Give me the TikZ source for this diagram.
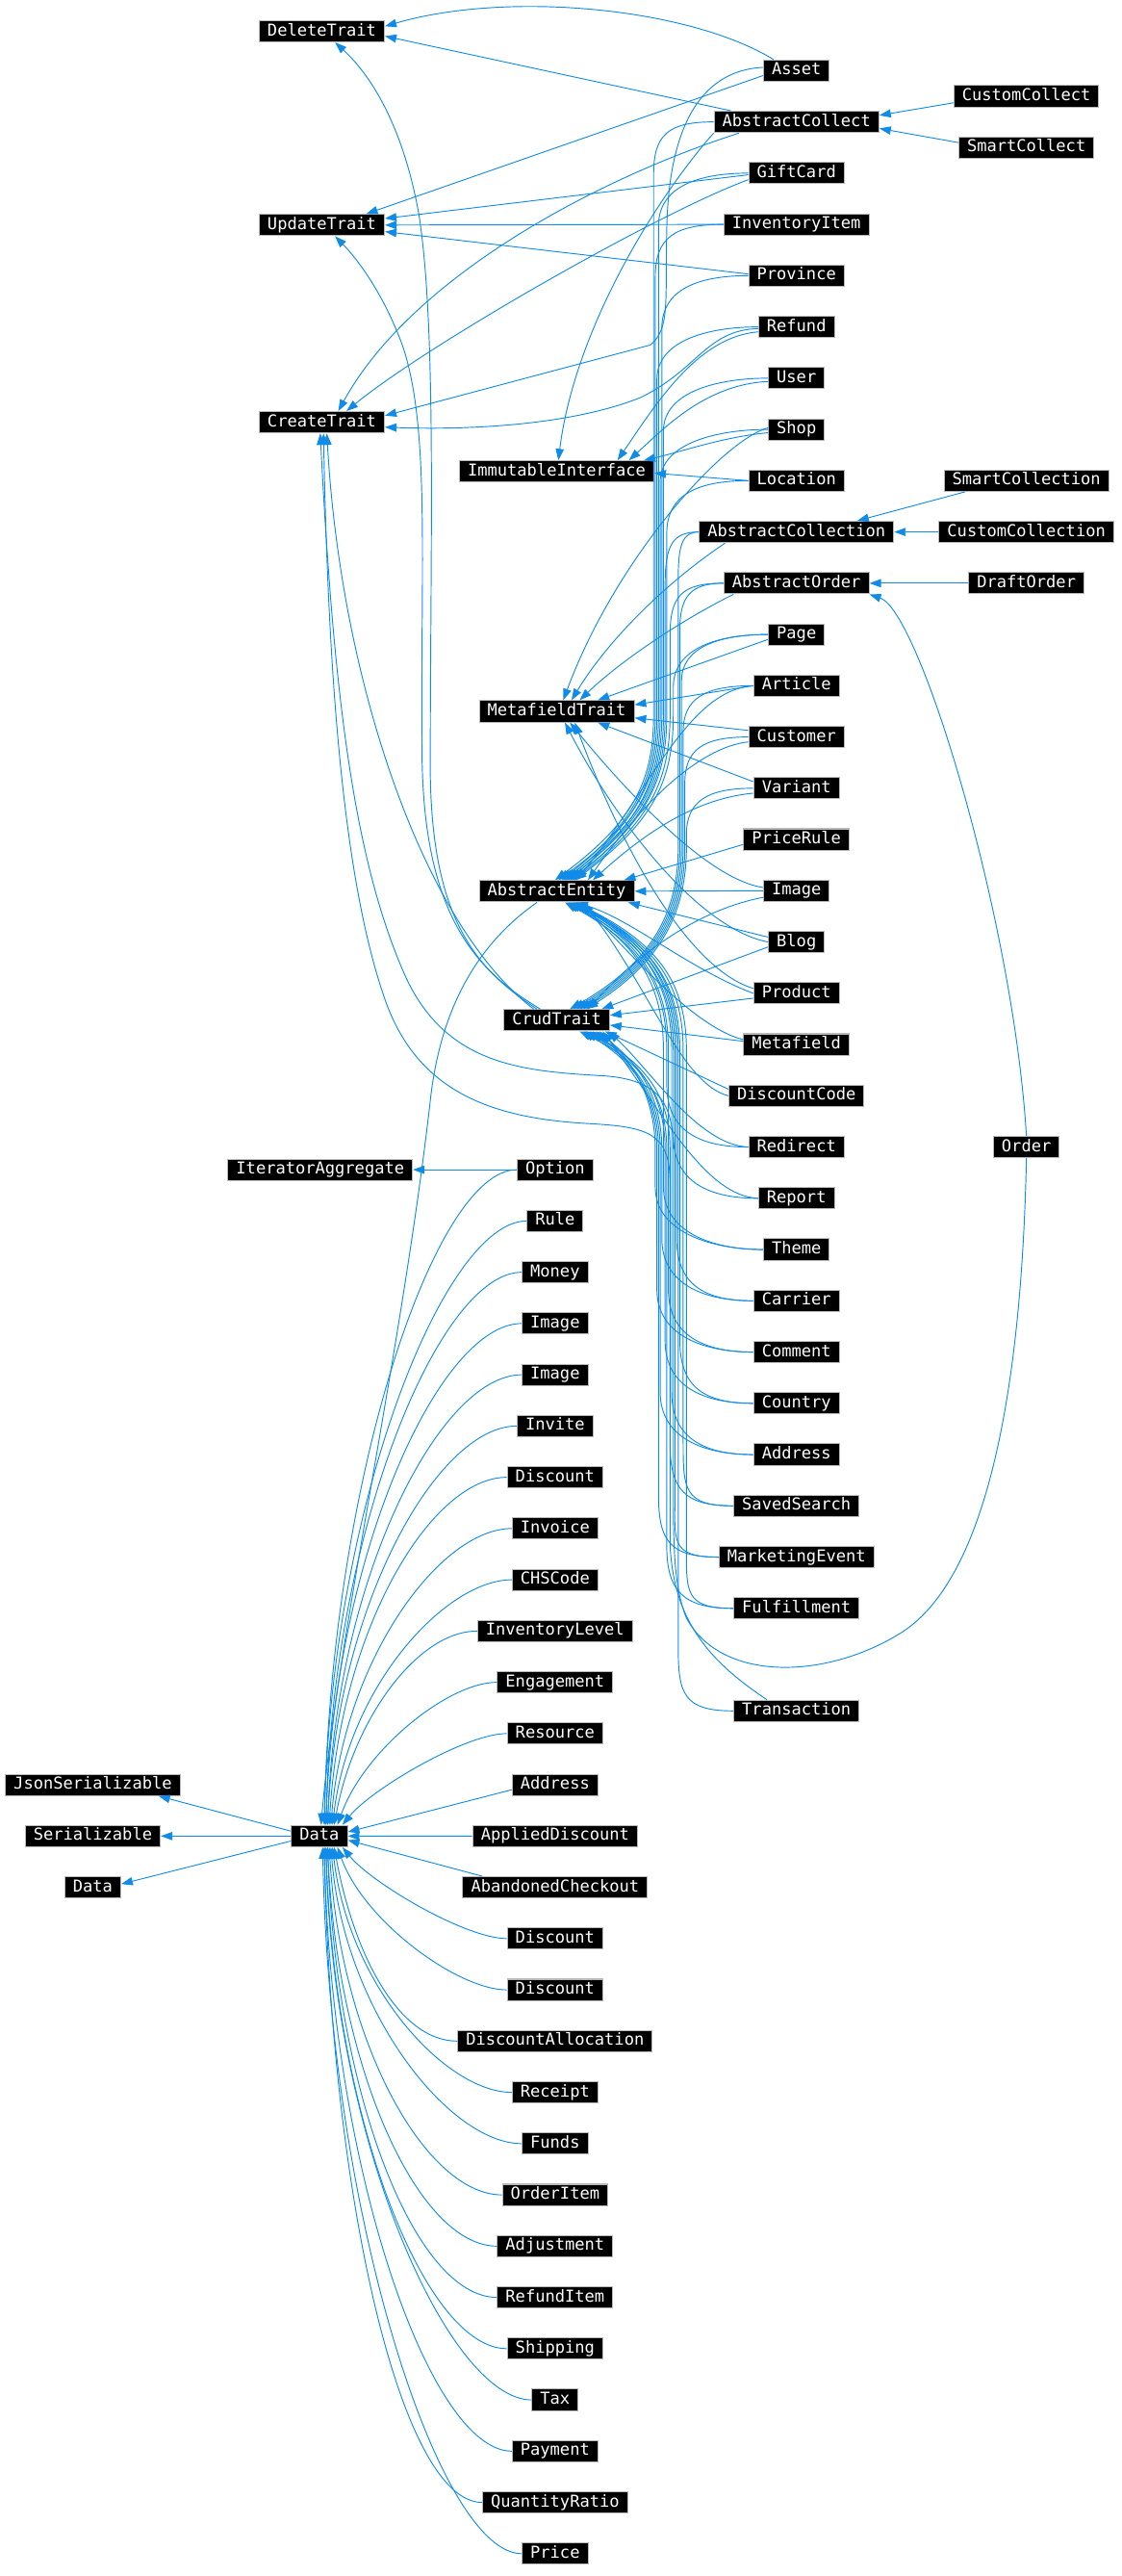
\documentclass[tikz,border=0pt]{standalone}
\usepackage{fontspec}
\newfontfamily\dvm{DejaVu Sans Mono}
\usetikzlibrary{arrows.meta,calc}
\definecolor{eblue}{RGB}{16,140,232}
\begin{document}
\begin{tikzpicture}[x=1pt,y=-1pt,
  cls/.style={draw=gray!55, fill=black, text=white, font=\dvm\fontsize{10}{12}\selectfont,
    inner xsep=5pt, inner ysep=0pt, minimum height=13pt, text height=7.6pt, text depth=2.2pt, line width=0.6pt},
  e/.style={draw=eblue, line width=0.55pt, -{Triangle[length=7pt,width=5pt]}}]
\useasboundingbox (0,0) rectangle (683,1568);
% ---------- nodes ----------
\node[cls] (DeleteTrait) at (196,19) {DeleteTrait};
\node[cls] (UpdateTrait) at (196,137) {UpdateTrait};
\node[cls] (CreateTrait) at (196,257) {CreateTrait};
\node[cls] (IteratorAggregate) at (195,712) {IteratorAggregate};
\node[cls] (Data) at (194.5,1117.6) {Data};
\node[cls] (JsonSerializable) at (56.5,1086.4) {JsonSerializable};
\node[cls] (Serializable) at (56.5,1117.6) {Serializable};
\node[cls] (DataL) at (56.5,1148.8) {Data};
\node[cls] (ImmutableInterface) at (339,287) {ImmutableInterface};
\node[cls] (MetafieldTrait) at (339,433) {MetafieldTrait};
\node[cls] (AbstractEntity) at (339,542.5) {AbstractEntity};
\node[cls] (CrudTrait) at (339,621) {CrudTrait};
% right column
\node[cls] (Asset) at (485,43) {Asset};
\node[cls] (AbstractCollect) at (485,74.2) {AbstractCollect};
\node[cls] (GiftCard) at (485,105.4) {GiftCard};
\node[cls] (InventoryItem) at (485,136.6) {InventoryItem};
\node[cls] (Province) at (485,167.8) {Province};
\node[cls] (Refund) at (485,199) {Refund};
\node[cls] (User) at (485,230.2) {User};
\node[cls] (Shop) at (485,261.4) {Shop};
\node[cls] (Location) at (485,292.6) {Location};
\node[cls] (AbstractCollection) at (485,323.8) {AbstractCollection};
\node[cls] (AbstractOrder) at (485,355) {AbstractOrder};
\node[cls] (Page) at (485,386.2) {Page};
\node[cls] (Article) at (485,417.4) {Article};
\node[cls] (Customer) at (485,448.6) {Customer};
\node[cls] (Variant) at (485,479.8) {Variant};
\node[cls] (PriceRule) at (485,511) {PriceRule};
\node[cls] (ImageR) at (485,542.2) {Image};
\node[cls] (Blog) at (485,573.4) {Blog};
\node[cls] (Product) at (485,604.6) {Product};
\node[cls] (Metafield) at (485,635.8) {Metafield};
\node[cls] (DiscountCode) at (485,667) {DiscountCode};
\node[cls] (Redirect) at (485,698.2) {Redirect};
\node[cls] (Report) at (485,729.4) {Report};
\node[cls] (Theme) at (485,760.6) {Theme};
\node[cls] (Carrier) at (485,791.8) {Carrier};
\node[cls] (Comment) at (485,823) {Comment};
\node[cls] (Country) at (485,854.2) {Country};
\node[cls] (AddressR) at (485,885.4) {Address};
\node[cls] (SavedSearch) at (485,916.6) {SavedSearch};
\node[cls] (MarketingEvent) at (485,947.8) {MarketingEvent};
\node[cls] (Fulfillment) at (485,979) {Fulfillment};
\node[cls] (Transaction) at (485,1041.4) {Transaction};
% far right
\node[cls] (CustomCollect) at (625,58.6) {CustomCollect};
\node[cls] (SmartCollect) at (625,89.8) {SmartCollect};
\node[cls] (SmartCollection) at (625,292.6) {SmartCollection};
\node[cls] (CustomCollection) at (625,323.8) {CustomCollection};
\node[cls] (DraftOrder) at (625,355) {DraftOrder};
\node[cls] (Order) at (625,698.2) {Order};
% data children
\foreach \n/\t [count=\k from 0] in {Option/Option,Rule/Rule,Money/Money,ImageA/Image,ImageB/Image,Invite/Invite,
  DiscountA/Discount,Invoice/Invoice,CHSCode/CHSCode,InventoryLevel/InventoryLevel,Engagement/Engagement,
  Resource/Resource,AddressD/Address,AppliedDiscount/AppliedDiscount,AbandonedCheckout/AbandonedCheckout,
  DiscountB/Discount,DiscountC/Discount,DiscountAllocation/DiscountAllocation,Receipt/Receipt,Funds/Funds,
  OrderItem/OrderItem,Adjustment/Adjustment,RefundItem/RefundItem,Shipping/Shipping,Tax/Tax,Payment/Payment,
  QuantityRatio/QuantityRatio,Price/Price}
  \node[cls] (\n) at (338,712+31.2*\k) {\t};

% ---------- edges: Data hierarchy ----------
\draw[e] ([yshift=3pt]Data.west) -- ([xshift=40pt]JsonSerializable.south);
\draw[e] (Data.west) -- (Serializable.east);
\draw[e] ([yshift=-3pt]Data.west) -- ([yshift=2pt]DataL.east);
\draw[e] (Option.west) -- (IteratorAggregate.east);
\foreach \n/\a/\b/\c/\d in {Option/50/4/210/3,Rule/50/4/195/3,Money/50/4/180/4,ImageA/50/5/165/4,
  ImageB/50/5/150/5,Invite/48/6/135/5,DiscountA/46/7/120/6,Invoice/44/8/100/7,CHSCode/40/10/85/8,
  InventoryLevel/36/12/65/9,Engagement/30/16/45/11,Resource/25/18/22/14}
  \draw[e] (\n.west) .. controls +(-\a,0) and +(\b,-\c) .. ([xshift=\d pt]Data.north);
\draw[e] ([yshift=-3pt]AddressD.west) -- ([yshift=2.5pt]Data.east);
\draw[e] (AppliedDiscount.west) -- (Data.east);
\draw[e] ([xshift=12pt]AbandonedCheckout.north west) -- ([yshift=-2.5pt]Data.east);
\foreach \n/\a/\b/\c/\d in {DiscountB/25/18/22/14,DiscountC/30/16/45/11,DiscountAllocation/36/12/65/9,
  Receipt/40/10/85/8,Funds/44/8/100/7,OrderItem/46/7/120/6,Adjustment/48/6/135/5,RefundItem/50/5/150/5,
  Shipping/50/5/165/4,Tax/50/4/180/4,Payment/50/4/195/3,QuantityRatio/50/4/210/3,Price/50/4/225/2}
  \draw[e] (\n.west) .. controls +(-\a,0) and +(\b,\c) .. ([xshift=\d pt]Data.south);
\draw[e] ([xshift=-12pt]AbstractEntity.south) .. controls (290,575) and (268,615) .. (262,670)
  .. controls (245,820) and (205,1000) .. ([xshift=1pt]Data.north);

% ---------- CrudTrait to traits ----------
\draw[e] ([xshift=-12pt]CrudTrait.north) .. controls (290,590) and (263,560) .. (262,470)
  .. controls (262,330) and (266,200) .. (255,130) .. controls (245,75) and (225,45) .. ([xshift=8pt]DeleteTrait.south);
\draw[e] ([xshift=-10pt]CrudTrait.north) .. controls (292,592) and (258,560) .. (257,460)
  .. controls (256,340) and (262,260) .. (245,210) .. controls (232,175) and (215,155) .. ([xshift=8pt]UpdateTrait.south);
\draw[e] ([xshift=-14pt]CrudTrait.north) .. controls (260,565) and (208,420) .. ([xshift=3pt]CreateTrait.south);

% ---------- upper right nodes to traits ----------
\draw[e] ([xshift=-14pt]Asset.north) .. controls (420,5) and (310,-6) .. ([yshift=3pt]DeleteTrait.east);
\draw[e] ([yshift=-3pt]Asset.west) -- ([xshift=27pt]UpdateTrait.north);
\draw[e] ([yshift=2pt]Asset.west) .. controls (425,43) and (407,80) .. (406,140)
  .. controls (405,185) and (408,200) .. (396,210) -- ([yshift=4pt]CreateTrait.east);
\draw[e] ([xshift=-40pt]AbstractCollect.north) -- ([yshift=-3pt]DeleteTrait.east);
\draw[e] ([xshift=-35pt]AbstractCollect.south) .. controls (360,110) and (250,170) .. ([xshift=10pt]CreateTrait.north);
\draw[e] (AbstractCollect.south west) .. controls (400,120) and (350,200) .. ([xshift=1pt]ImmutableInterface.north);
\draw[e] ([yshift=-1pt]GiftCard.west) -- ([yshift=4pt]UpdateTrait.east);
\draw[e] ([yshift=-4pt]GiftCard.west) .. controls (400,130) and (260,210) .. ([xshift=15pt]CreateTrait.north);
\draw[e] (InventoryItem.west) -- (UpdateTrait.east);
\draw[e] ([yshift=1pt]Province.west) -- ([yshift=-4pt]UpdateTrait.east);
\draw[e] ([yshift=-1pt]Refund.west) .. controls (430,201) and (425,225) .. (390,242)
  .. controls (350,258) and (290,262) .. ([yshift=-3pt]CreateTrait.east);
\draw[e] ([yshift=-3pt]Refund.west) .. controls (425,205) and (400,245) .. ([xshift=37pt]ImmutableInterface.north);
\draw[e] ([yshift=-2pt]User.west) .. controls (430,234) and (405,260) .. ([xshift=44pt]ImmutableInterface.north);
\draw[e] ([yshift=-2pt]Shop.west) .. controls (440,266) and (415,275) .. ([xshift=53pt]ImmutableInterface.north);
\draw[e] (Location.west) -- ([yshift=-1pt]ImmutableInterface.east);

% ---------- MetafieldTrait ----------
\draw[e] ([yshift=1pt]Shop.west) .. controls (440,268) and (375,340) .. ([xshift=4pt]MetafieldTrait.north);
\draw[e] ([xshift=16pt]AbstractCollection.south west) .. controls (405,355) and (370,390) .. ([xshift=9pt]MetafieldTrait.north);
\draw[e] ([xshift=6pt]AbstractOrder.south west) .. controls (410,380) and (375,405) .. ([xshift=14pt]MetafieldTrait.north);
\draw[e] ([yshift=-3pt]Page.west) -- ([xshift=25pt]MetafieldTrait.north);
\draw[e] (Article.west) -- ([yshift=4pt]MetafieldTrait.east);
\draw[e] ([yshift=4pt]Customer.west) -- ([yshift=-4pt]MetafieldTrait.east);
\draw[e] ([yshift=4pt]Variant.west) -- ([xshift=25pt]MetafieldTrait.south);
\draw[e] ([yshift=2pt]ImageR.west) .. controls (430,535) and (380,480) .. ([xshift=8pt]MetafieldTrait.south);
\draw[e] (Blog.west) .. controls (425,565) and (375,500) .. ([xshift=5pt]MetafieldTrait.south);
\draw[e] ([yshift=3pt]Product.west) .. controls (420,590) and (380,520) .. ([xshift=11pt]MetafieldTrait.south);

% ---------- AbstractEntity (upper bundle) ----------
\foreach \n/\y/\xb/\dx/\r in {AbstractCollect/74.2/398/-1/28,GiftCard/105.4/401/1/30,InventoryItem/136.6/399/3/30,
  Province/167.8/403/4/30,Refund/199/400/5/30,User/230.2/404/6/30,Shop/261.4/402/7/30,Location/292.6/406/8/30,
  AbstractCollection/323.8/405/9/16,AbstractOrder/355/408/10/26,Page/386.2/410/11/30}
  \draw[e] (\n.west) .. controls +(-\r,0) and (\xb,\y+8) .. (\xb,\y+32) -- (\xb,435)
    .. controls (\xb,475) and (\xb-12,500) .. ([xshift=\dx pt]AbstractEntity.north);
\draw[e] (Article.west) .. controls +(-40,3) and +(45,-55) .. ([xshift=12pt]AbstractEntity.north);
\draw[e] ([yshift=-3pt]Customer.west) .. controls (425,455) and (390,490) .. ([xshift=19pt]AbstractEntity.north);
\draw[e] ([yshift=-3pt]Variant.west) .. controls (425,486) and (395,505) .. ([xshift=22pt]AbstractEntity.north);
\draw[e] ([yshift=-3pt]PriceRule.west) -- ([xshift=41pt]AbstractEntity.north);
\draw[e] (ImageR.west) -- (AbstractEntity.east);
\draw[e] ([yshift=3pt]Blog.west) -- ([xshift=-4pt]AbstractEntity.south east);
\draw[e] (Product.west) .. controls (420,590) and (385,560) .. ([xshift=12pt]AbstractEntity.south);
\draw[e] ([yshift=3pt]Metafield.west) .. controls (420,625) and (375,570) .. ([xshift=14pt]AbstractEntity.south);
\draw[e] (DiscountCode.west) .. controls (415,660) and (395,600) .. ([xshift=16pt]AbstractEntity.south);
% lower bundle to AbstractEntity
\foreach \n/\y/\xb/\dx in {Redirect/698.2/406/5,Report/729.4/410/6,Theme/760.6/404/7,Carrier/791.8/412/8,
  Comment/823/407/8,Country/854.2/414/9,AddressR/885.4/409/10,SavedSearch/916.6/416/10,
  MarketingEvent/947.8/411/11,Fulfillment/979/418/11,Transaction/1041.4/413/12}
  \draw[e] (\n.west) .. controls +(-30,0) and (\xb,\y-10) .. (\xb,\y-38) -- (\xb,640)
    .. controls (\xb,600) and (\xb-15,575) .. ([xshift=\dx pt]AbstractEntity.south);

% ---------- CrudTrait ----------
\foreach \n/\y/\xb/\dx/\r in {AbstractCollection/323.8/413/8/10,AbstractOrder/355/414/10/20,Page/386.2/415/12/30,
  Article/417.4/416/14/30,Customer/448.6/417/16/28,Variant/479.8/418/18/28}
  \draw[e] (\n.west) .. controls +(-\r,0) and (\xb,\y+8) .. (\xb,\y+28) -- (\xb,515)
    .. controls (\xb,555) and (\xb-15,585) .. ([xshift=\dx pt]CrudTrait.north);
\draw[e] ([yshift=-4pt]ImageR.west) .. controls (420,555) and (385,585) .. ([xshift=19pt]CrudTrait.north);
\draw[e] ([yshift=-3pt]Blog.west) -- ([xshift=-5pt]CrudTrait.north east);
\draw[e] ([yshift=-3pt]Product.west) -- ([yshift=3pt]CrudTrait.east);
\draw[e] ([yshift=2pt]Metafield.west) -- ([yshift=-3pt]CrudTrait.east);
\draw[e] ([yshift=4pt]DiscountCode.west) -- ([xshift=-3pt]CrudTrait.south east);
\draw[e] (Redirect.west) .. controls (425,697) and (395,650) .. ([xshift=-1pt]CrudTrait.south east);
\draw[e] (Report.west) .. controls (430,728) and (405,680) .. ([xshift=28pt]CrudTrait.south);
\foreach \n/\y/\xb/\dx in {Theme/760.6/399/26,Carrier/791.8/403/24,Comment/823/400/22,
  Country/854.2/405/20,AddressR/885.4/402/18,SavedSearch/916.6/408/17,MarketingEvent/947.8/401/16,
  Fulfillment/979/406/14}
  \draw[e] (\n.west) .. controls +(-30,0) and (\xb,\y-10) .. (\xb,\y-38) -- (\xb,700)
    .. controls (\xb,670) and (\xb-12,648) .. ([xshift=\dx pt]CrudTrait.south);

% ---------- long edges to CreateTrait ----------
\draw[e] ([xshift=-18pt]Transaction.north) .. controls (430,1010) and (410,985) .. (408,940) -- (408,720)
  .. controls (408,690) and (395,686) .. (360,684) .. controls (300,681) and (255,665) .. (235,610)
  .. controls (210,540) and (200,420) .. ([xshift=1pt]CreateTrait.south);
\draw[e] (Order.south) .. controls (622,850) and (600,960) .. (550,993)
  .. controls (505,1022) and (440,1025) .. (418,985) .. controls (410,965) and (410,940) .. (410,900)
  -- (410,700) .. controls (410,670) and (400,658) .. (370,655) .. controls (320,652) and (270,650) .. (245,590)
  .. controls (215,520) and (203,420) .. ([xshift=-1pt]CreateTrait.south);

% ---------- far right ----------
\draw[e] ([yshift=-4pt]CustomCollect.west) -- ([yshift=4pt]AbstractCollect.east);
\draw[e] ([yshift=3pt]SmartCollect.west) -- ([yshift=-4pt]AbstractCollect.east);
\draw[e] ([xshift=13pt]SmartCollection.south west) -- ([xshift=37pt]AbstractCollection.north);
\draw[e] (CustomCollection.west) -- (AbstractCollection.east);
\draw[e] (DraftOrder.west) -- (AbstractOrder.east);
\draw[e] (Order.north) .. controls (617,560) and (560,372) .. (AbstractOrder.south east);
\end{tikzpicture}
\end{document}
